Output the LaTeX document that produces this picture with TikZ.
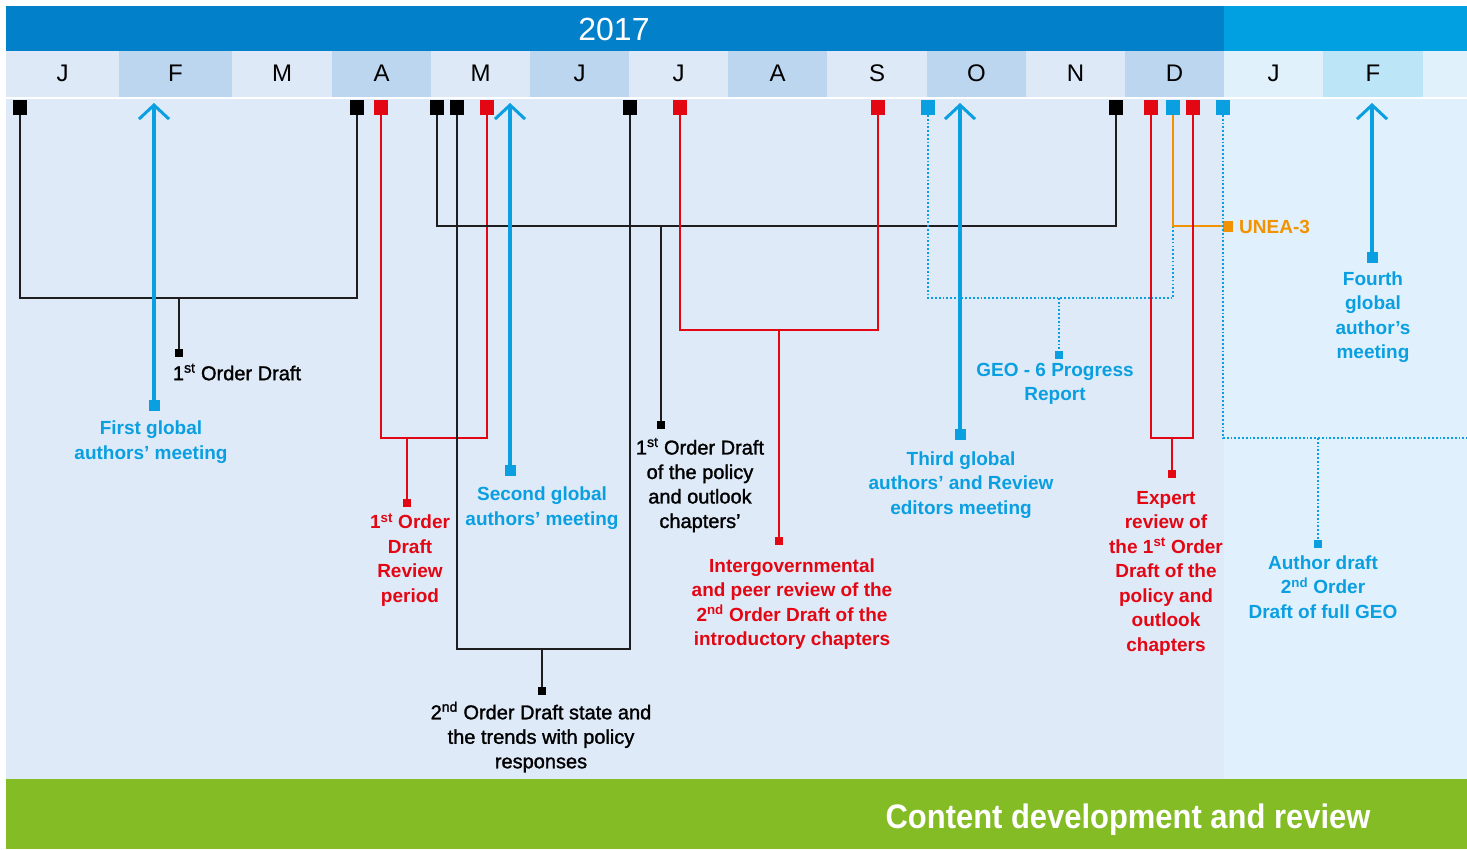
\documentclass[tikz,border=0pt]{standalone}
\usepackage{fontspec}
\setmainfont{Liberation Sans}
\newfontfamily\medfont{Liberation Sans}[FakeBold=1.4]
\newfontfamily\condfont{Liberation Sans}[FakeStretch=0.91]
\usetikzlibrary{arrows.meta}
\definecolor{hdark}{HTML}{0281CA}
\definecolor{hlight}{HTML}{00A0E1}
\definecolor{mL}{HTML}{DDE9F7}
\definecolor{mD}{HTML}{BDD6EF}
\definecolor{mRL}{HTML}{E0F1FC}
\definecolor{mRD}{HTML}{BDE5F8}
\definecolor{bodyL}{HTML}{DEEAF8}
\definecolor{bodyR}{HTML}{E0F1FD}
\definecolor{cgreen}{HTML}{84BC25}
\definecolor{cblue}{HTML}{0A9FE0}
\definecolor{cred}{HTML}{E30613}
\definecolor{corange}{HTML}{F39200}
\definecolor{cblack}{HTML}{1E1E1E}
\begin{document}
\begin{tikzpicture}[x=1pt,y=-1pt,
  month/.style={font=\fontsize{24}{24}\selectfont, text=black, inner sep=0pt},
  mk/.style={minimum width=14pt, minimum height=15pt, inner sep=0pt, outer sep=0pt},
  blkmk/.style={mk, fill=black},
  redmk/.style={mk, fill=cred},
  bluemk/.style={mk, fill=cblue},
  endsq/.style={minimum size=8pt, inner sep=0pt, outer sep=0pt},
  bigend/.style={minimum size=11pt, inner sep=0pt, outer sep=0pt, fill=cblue},
  blkln/.style={draw=cblack, line width=1.6pt},
  redln/.style={draw=cred, line width=1.6pt},
  dotln/.style={draw=cblue, line width=1.7pt, dash pattern=on 1.7pt off 2.1pt},
  orln/.style={draw=corange, line width=1.8pt},
  arr/.style={draw=cblue, line width=4.5pt, -{Straight Barb[length=14pt,width=30pt,line width=3pt]}},
  lbk/.style={align=center, text=black, inner sep=0pt, font=\medfont\fontsize{20}{24.5}\selectfont},
  lblue/.style={align=center, text=cblue, inner sep=0pt, font=\bfseries\fontsize{19}{24.5}\selectfont},
  lred/.style={align=center, text=cred, inner sep=0pt, font=\bfseries\fontsize{19}{24.5}\selectfont},
]
\useasboundingbox (0,0) rectangle (1467,849);
\fill[white] (0,0) rectangle (1467,849);
% header
\fill[hdark] (6,6) rectangle (1224,51);
\fill[hlight] (1224,6) rectangle (1467,51);
\node[text=white, font=\fontsize{32}{32}\selectfont, inner sep=0pt] (year) at (614,29) {2017};
% months
\foreach \l/\r/\t/\c [count=\i] in {6/119/J/mL, 119/232/F/mD, 232/332/M/mL, 332/431/A/mD, 431/530/M/mL, 530/629/J/mD, 629/728/J/mL, 728/827/A/mD, 827/927/S/mL, 927/1026/O/mD, 1026/1125/N/mL, 1125/1224/D/mD, 1224/1323/J/mRL, 1323/1423/F/mRD}
  {\fill[\c] (\l,51) rectangle (\r,97);
   \node[month] (m\i) at ({(\l+\r)/2},73) {\t};}
\fill[mRL] (1423,51) rectangle (1467,97);
% body
\fill[bodyL] (6,99) rectangle (1224,779);
\fill[bodyR] (1224,99) rectangle (1467,779);
\fill[cgreen] (6,779) rectangle (1467,849);
\node[text=white, font=\condfont\bfseries\fontsize{34}{34}\selectfont, inner sep=0pt] (title) at (1128,820) {Content development and review};

% top markers
\node[blkmk] (b1) at (20,107.5) {};
\node[blkmk] (b2) at (357,107.5) {};
\node[redmk] (r1) at (381,107.5) {};
\node[blkmk] (b3) at (437,107.5) {};
\node[blkmk] (b4) at (457,107.5) {};
\node[redmk] (r2) at (487,107.5) {};
\node[blkmk] (b5) at (630,107.5) {};
\node[redmk] (r3) at (680,107.5) {};
\node[redmk] (r4) at (878,107.5) {};
\node[bluemk] (s1) at (928,107.5) {};
\node[blkmk] (b6) at (1116,107.5) {};
\node[redmk] (r5) at (1151,107.5) {};
\node[bluemk] (s2) at (1173,107.5) {};
\node[redmk] (r6) at (1193,107.5) {};
\node[bluemk] (s3) at (1223,107.5) {};

% junctions
\coordinate (j1) at (179,298);
\coordinate (j3) at (407,438);
\coordinate (j4) at (542,649);
\coordinate (j5) at (661,226);
\coordinate (j7) at (779,330);
\coordinate (j8) at (1059,298);
\coordinate (j10) at (1172,438);
\coordinate (j11) at (1318,438);
\coordinate (rt) at (1467,438);
\coordinate (u3j) at (1173,226);

% end squares
\node[endsq, fill=black] (e1) at (179,353) {};
\node[endsq, fill=cred] (e3) at (407,503) {};
\node[endsq, fill=black] (e4) at (542,691) {};
\node[endsq, fill=black] (e5) at (661,425) {};
\node[endsq, fill=cred] (e7) at (779,541) {};
\node[endsq, fill=cblue] (e8) at (1059,355) {};
\node[minimum width=10pt, minimum height=11pt, inner sep=0pt, fill=corange] (u3) at (1228,226) {};
\node[endsq, fill=cred] (e10) at (1172,473.5) {};
\node[endsq, fill=cblue] (e11) at (1318,544) {};

% brackets
\draw[blkln] (b1.south) |- (j1) -| (b2.south);
\draw[blkln] (j1) -- (e1.north);
\draw[redln] (r1.south) |- (j3) -| (r2.south);
\draw[redln] (j3) -- (e3.north);
\draw[blkln] (b4.south) |- (j4) -| (b5.south);
\draw[blkln] (j4) -- (e4.north);
\draw[blkln] (b3.south) |- (j5) -| (b6.south);
\draw[blkln] (j5) -- (e5.north);
\draw[redln] (r3.south) |- (j7) -| (r4.south);
\draw[redln] (j7) -- (e7.north);
\draw[dotln] (s1.south) |- (j8) -| (s2.south);
\draw[dotln] (j8) -- (e8.north);
\draw[orln] (s2.south) -- (u3j) -- (u3.west);
\draw[redln] (r5.south) |- (j10) -| (r6.south);
\draw[redln] (j10) -- (e10.north);
\draw[dotln] (s3.south) |- (rt);
\draw[dotln] (j11) -- (e11.north);

% arrows
\coordinate (a1t) at (154,103);
\coordinate (a2t) at (510,103);
\coordinate (a3t) at (960,103);
\coordinate (a4t) at (1372,103);
\node[bigend] (a1e) at (154,405.5) {};
\node[bigend] (a2e) at (510,470.5) {};
\node[bigend] (a3e) at (960,434) {};
\node[bigend] (a4e) at (1372,257.5) {};
\draw[arr] (a1e.center) -- (a1t);
\draw[arr] (a2e.center) -- (a2t);
\draw[arr] (a3e.center) -- (a3t);
\draw[arr] (a4e.center) -- (a4t);

% labels
\node[lbk] (t1) at (237,372) {1\textsuperscript{st} Order Draft};
\node[lblue] (t2) at (151,442) {First global\\authors’ meeting};
\node[lred] (t3) at (410,560) {1\textsuperscript{st} Order\\Draft\\Review\\period};
\node[lbk] (t4) at (541,737) {2\textsuperscript{nd} Order Draft state and\\the trends with policy\\responses};
\node[lbk] (t5) at (700,485) {1\textsuperscript{st} Order Draft\\of the policy\\and outlook\\chapters’};
\node[lblue] (t6) at (542,508) {Second global\\authors’ meeting};
\node[lred] (t7) at (792,604) {Intergovernmental\\and peer review of the\\2\textsuperscript{nd} Order Draft of the\\introductory chapters};
\node[lblue] (t8) at (1055,384) {GEO - 6 Progress\\Report};
\node[lblue, text=corange, anchor=west] (t9) at (1239,227) {UNEA-3};
\node[lred] (t10) at (1166,573) {Expert\\review of\\the 1\textsuperscript{st} Order\\Draft of the\\policy and\\outlook\\chapters};
\node[lblue] (t11) at (1323,587) {Author draft\\2\textsuperscript{nd} Order\\Draft of full GEO};
\node[lblue] (t12) at (961,485) {Third global\\authors’ and Review\\editors meeting};
\node[lblue] (t13) at (1373,317) {Fourth\\global\\author’s\\meeting};
\end{tikzpicture}
\end{document}
